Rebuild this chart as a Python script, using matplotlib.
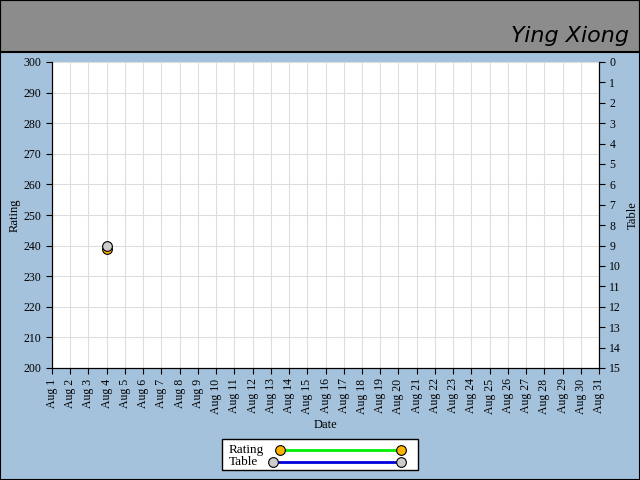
import matplotlib.pyplot as plt
from matplotlib.lines import Line2D
from matplotlib.patches import Rectangle

days = list(range(1, 32))
day_labels = [f'Aug {d}' for d in days]
rating_days = [4]
rating_values = [239]
table_days = [4]
table_values = [9]
title = 'Ying Xiong'


def px(x, y):
    # pixel position -> figure fraction
    return x / 640, 1 - y / 480


def main():
    plt.rcParams['font.family'] = ['Liberation Serif', 'DejaVu Serif']
    fig = plt.figure(figsize=(6.4, 4.8), dpi=100, facecolor='#a5c2dc')

    # header band
    fig.patches.append(Rectangle((0, 1 - 52/480), 1, 52/480, transform=fig.transFigure,
                                 facecolor='#8c8c8c', edgecolor='black', lw=1.5, zorder=0))
    fig.patches.append(Rectangle((0, 0), 1, 1, transform=fig.transFigure,
                                 facecolor='none', edgecolor='black', lw=1.5, zorder=5))
    fig.text(0.983, 1 - 42/480, title, ha='right', va='baseline', fontsize=16,
             style='italic', family=['DejaVu Sans'], fontweight='light')

    ax = fig.add_axes([52/640, 112/480, 547/640, 306/480])
    ax.set_facecolor('white')
    ax.set_xlim(1, 31)
    ax.set_ylim(200, 300)
    ax.set_xticks(days)
    ax.set_xticklabels(day_labels, rotation=90, fontsize=8.5)
    ax.set_yticks(range(200, 301, 10))
    ax.tick_params(axis='y', labelsize=8.5, length=4)
    ax.tick_params(axis='x', length=4)
    ax.grid(True, color='#dddddd', lw=0.8)
    ax.set_axisbelow(True)
    ax.spines['top'].set_visible(False)
    ax.set_xlabel('Date', fontsize=9)
    ax.set_ylabel('Rating', fontsize=9, labelpad=2)

    ax2 = ax.twinx()
    ax2.set_ylim(15, 0)
    ax2.set_yticks(range(0, 16))
    ax2.tick_params(axis='y', labelsize=8.5, length=4)
    ax2.spines['top'].set_visible(False)
    ax2.set_ylabel('Table', fontsize=9)

    rating_style = dict(color='#00ee00', lw=2, marker='o', ms=7, mfc='#ffb400',
                        mec='black', mew=0.8)
    table_style = dict(color='#0000dd', lw=2, marker='o', ms=7, mfc='#cccccc',
                       mec='black', mew=0.8)
    ax.plot(rating_days, rating_values, zorder=3, clip_on=False, **rating_style)
    ax2.plot(table_days, table_values, zorder=4, clip_on=False, **table_style)

    # legend box drawn by hand
    x0, y0 = px(222, 470)
    x1, y1 = px(418, 439)
    fig.patches.append(Rectangle((x0, y0), x1 - x0, y1 - y0, transform=fig.transFigure,
                                 facecolor='white', edgecolor='black', lw=1, zorder=6))
    for label, style, xs, y in [('Rating', rating_style, 280, 450),
                                ('Table', table_style, 273, 462)]:
        fig.text(*px(229, y), label, ha='left', va='center', fontsize=9.5, zorder=7)
        (fx0, fy), (fx1, _) = px(xs, y), px(401, y)
        fig.add_artist(Line2D([fx0, fx1], [fy, fy], transform=fig.transFigure, zorder=7,
                              **style))

    fig.savefig('out.png', dpi=100, facecolor=fig.get_facecolor())


if __name__ == "__main__":
    main()
